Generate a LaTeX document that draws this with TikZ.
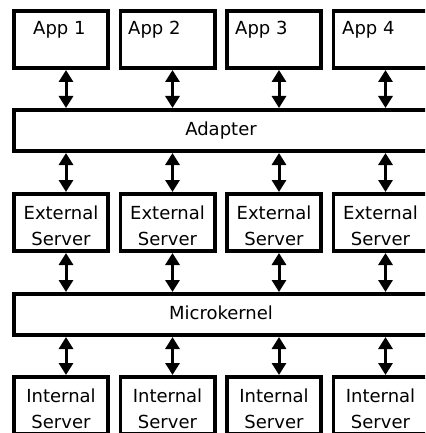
\documentclass[tikz,border=0pt]{standalone}
\usepackage{fontspec}
\setmainfont{DejaVu Sans}
\usetikzlibrary{arrows.meta}
\tikzset{
  box/.style={draw=black, line width=3.6pt, fill=white, inner sep=0pt,
    minimum width=94.4pt, minimum height=57.4pt},
  bar/.style={draw=black, line width=3.6pt, fill=white, inner sep=0pt,
    minimum width=414.4pt, minimum height=41.4pt,
    text height=13pt, text depth=4pt, font=\fontsize{18}{22}\selectfont},
  lbl/.style={inner sep=0pt, font=\fontsize{18}{22}\selectfont},
  link/.style={line width=3pt,
    {Triangle[width=14pt,length=12pt]}-{Triangle[width=14pt,length=12pt]}},
}
\begin{document}
\begin{tikzpicture}[x=1pt,y=-1pt]
\useasboundingbox (0,0) rectangle (425,433);
\clip (0,0) rectangle (425,433);

% four columns of boxes: applications, external servers, internal servers
\foreach \i/\cx/\tx in {1/61/33,2/167.5/128,3/274/235,4/380.5/342} {
  \node[box] (app\i) at (\cx,39.5) {};
  \node[box] (ext\i) at (\cx,222.5) {};
  \node[box] (int\i) at (\cx,405.5) {};
  \node[lbl, anchor=base west] (app\i-t) at (\tx,35) {App \i};
  \node[lbl, anchor=base] (ext\i-a) at (\cx,219) {External};
  \node[lbl, anchor=base] (ext\i-b) at (\cx,245) {Server};
  \node[lbl, anchor=base] (int\i-a) at (\cx,402) {Internal};
  \node[lbl, anchor=base] (int\i-b) at (\cx,428) {Server};
}

% the two horizontal layers
\node[bar] (adapter) at (221,130.5) {Adapter};
\node[bar] (micro) at (221,314.5) {Microkernel};

% two-way links between the layers
\foreach \i in {1,...,4} {
  \draw[link] ([xshift=5pt]app\i.south) -- ([xshift=5pt]app\i.south |- adapter.north);
  \draw[link] ([xshift=5pt]ext\i.north) -- ([xshift=5pt]ext\i.north |- adapter.south);
  \draw[link] ([xshift=5pt]ext\i.south) -- ([xshift=5pt]ext\i.south |- micro.north);
  \draw[link] ([xshift=5pt]int\i.north) -- ([xshift=5pt]int\i.north |- micro.south);
}
\end{tikzpicture}
\end{document}
